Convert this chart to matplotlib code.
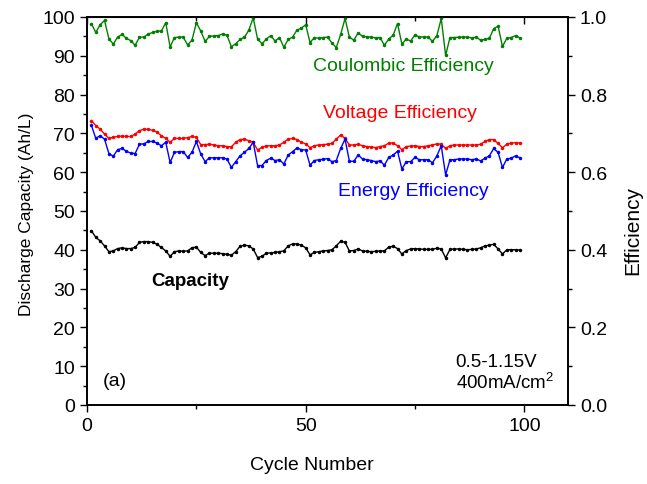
import numpy as np
import matplotlib
matplotlib.use('Agg')
import matplotlib.pyplot as plt
from matplotlib.ticker import MultipleLocator

plt.rcParams['font.family'] = ['Liberation Sans', 'DejaVu Sans']
plt.rcParams['mathtext.fontset'] = 'custom'
plt.rcParams['mathtext.rm'] = 'Liberation Sans'

# cycle numbers 1..99
cycles = np.arange(1, 100)

# discharge capacity (Ah/L)
capacity = [44.9, 43.2, 42.3, 41.0, 39.5, 39.7, 40.3, 40.5, 40.3, 40.3,
            40.6, 41.9, 42.1, 42.1, 41.9, 41.4, 40.6, 39.7, 38.3, 39.5,
            39.7, 39.6, 39.7, 40.5, 40.7, 39.3, 38.5, 39.1, 39.1, 39.1,
            39.0, 38.8, 38.6, 39.5, 40.9, 41.2, 41.0, 40.2, 38.0, 38.3,
            39.1, 39.2, 39.3, 39.5, 39.7, 41.0, 41.5, 41.5, 41.2, 40.5,
            38.7, 39.3, 39.5, 39.7, 39.8, 40.0, 41.0, 42.2, 41.9, 39.7,
            39.8, 40.2, 39.7, 39.6, 39.5, 39.6, 39.7, 39.7, 40.7, 40.9,
            40.3, 38.9, 39.8, 40.2, 40.3, 40.2, 40.1, 40.1, 40.1, 40.4,
            40.2, 37.9, 40.1, 40.2, 40.2, 40.1, 40.0, 40.1, 40.2, 40.5,
            41.0, 41.2, 41.4, 40.2, 38.9, 40.0, 40.0, 40.0, 39.9]

# coulombic efficiency (%)
coulombic = [98.3, 96.0, 98.0, 99.1, 94.4, 93.0, 94.8, 95.5, 94.5, 93.9,
             92.7, 94.8, 94.8, 95.6, 96.0, 96.3, 96.4, 98.5, 92.3, 94.7,
             94.8, 94.8, 92.8, 94.0, 98.5, 96.4, 93.7, 95.0, 95.1, 95.2,
             95.6, 95.3, 92.3, 93.1, 94.2, 94.8, 96.6, 99.8, 94.3, 93.1,
             94.3, 95.2, 93.8, 94.7, 92.2, 94.2, 94.8, 96.6, 97.1, 98.0,
             93.4, 94.7, 94.5, 94.7, 94.8, 93.3, 92.1, 95.5, 99.6, 94.8,
             94.0, 95.9, 95.0, 94.9, 94.8, 94.6, 94.7, 92.7, 94.3, 95.3,
             98.3, 93.0, 94.3, 93.8, 95.4, 94.8, 94.9, 94.8, 93.7, 95.2,
             99.6, 90.1, 94.7, 94.7, 94.8, 94.8, 94.8, 94.6, 94.8, 94.0,
             94.2, 94.5, 97.0, 97.6, 92.4, 94.5, 94.7, 95.2, 94.6]

# voltage efficiency (%)
voltage = [73.3, 72.0, 71.1, 69.8, 68.7, 69.0, 69.2, 69.3, 69.2, 69.2,
           69.8, 70.7, 71.1, 71.0, 70.8, 70.3, 69.4, 68.7, 67.7, 68.7,
           68.7, 68.7, 68.9, 69.2, 69.0, 67.1, 67.1, 67.2, 67.0, 66.8,
           66.8, 66.6, 66.5, 67.7, 68.4, 68.5, 68.1, 67.7, 65.7, 66.4,
           66.8, 66.8, 66.8, 67.0, 67.7, 68.5, 68.7, 68.4, 67.7, 67.3,
           66.3, 66.8, 67.0, 67.1, 67.2, 67.4, 68.5, 69.6, 68.7, 67.0,
           67.0, 67.2, 66.8, 66.6, 66.5, 66.3, 66.6, 66.8, 67.5, 67.5,
           66.8, 65.8, 66.6, 66.7, 66.8, 66.6, 66.6, 66.8, 67.0, 67.3,
           67.2, 66.1, 66.8, 67.0, 67.0, 67.0, 67.0, 67.0, 67.0, 67.2,
           67.9, 68.4, 68.4, 67.4, 66.3, 67.2, 67.5, 67.6, 67.5]

# energy efficiency (%)
energy = [72.1, 68.7, 69.4, 68.5, 64.8, 64.1, 65.8, 66.1, 65.4, 64.9,
          64.8, 67.2, 67.3, 67.9, 67.9, 67.5, 66.8, 67.7, 62.5, 65.1,
          65.3, 65.3, 63.8, 65.1, 67.9, 64.7, 62.7, 63.7, 63.7, 63.7,
          63.7, 63.4, 61.2, 62.7, 64.2, 65.1, 66.1, 67.7, 61.7, 61.7,
          63.0, 63.6, 63.0, 63.2, 62.1, 64.4, 65.3, 66.2, 65.8, 65.7,
          61.8, 63.0, 63.2, 63.3, 63.5, 62.7, 63.0, 66.1, 68.5, 62.8,
          62.8, 64.4, 63.4, 63.2, 63.0, 62.7, 62.9, 61.8, 63.8, 64.4,
          65.4, 60.8, 62.7, 62.7, 63.8, 63.2, 63.2, 63.2, 62.4, 64.2,
          66.8, 59.3, 63.2, 63.2, 63.4, 63.4, 63.4, 63.2, 63.4, 62.9,
          63.6, 64.2, 66.1, 65.1, 61.2, 63.4, 63.6, 64.2, 63.7]

fig = plt.figure(figsize=(6.47, 4.85), dpi=100)
ax = fig.add_axes([0.1345, 0.163, 0.7435, 0.8])
ax2 = ax.twinx()

ax.plot(cycles, capacity, color='black', lw=1, marker='o', ms=1.5)
ax2.plot(cycles, np.array(coulombic) / 100, color='#008000', lw=1, marker='o', ms=1.5)
ax2.plot(cycles, np.array(voltage) / 100, color='#ff0000', lw=1, marker='o', ms=1.5)
ax2.plot(cycles, np.array(energy) / 100, color='#0000ff', lw=1, marker='o', ms=1.5)

ax.set_xlim(0, 110)
ax.set_ylim(0, 100)
ax2.set_ylim(0, 1.0)

ax.set_xticks([0, 50, 100])
ax.xaxis.set_minor_locator(MultipleLocator(25))
ax.yaxis.set_major_locator(MultipleLocator(10))
ax.yaxis.set_minor_locator(MultipleLocator(5))
ax2.set_yticks([0.0, 0.2, 0.4, 0.6, 0.8, 1.0])
ax2.set_yticklabels(['0.0', '0.2', '0.4', '0.6', '0.8', '1.0'])
ax2.yaxis.set_minor_locator(MultipleLocator(0.1))

for a in (ax, ax2):
    a.tick_params(which='major', direction='out', length=5, width=1, labelsize=14)
    a.tick_params(which='minor', direction='out', length=3, width=1)
    for s in a.spines.values():
        s.set_linewidth(1.2)

top = ax.secondary_xaxis('top')
top.set_xticks([0, 50, 100])
top.xaxis.set_minor_locator(MultipleLocator(25))
top.tick_params(which='major', direction='in', length=5, width=1, labeltop=False)
top.tick_params(which='minor', direction='in', length=3, width=1)

ax.set_xlabel('Cycle Number', fontsize=14)
ax.xaxis.set_label_coords(0.468, -0.131)
ax.set_ylabel('Discharge Capacity (Ah/L)', fontsize=12.5)
ax.yaxis.set_label_coords(-0.110, 0.495)
ax2.set_ylabel('Efficiency', fontsize=15)
ax2.yaxis.set_label_coords(1.114, 0.451)

ax.text(72.4, 87.6, 'Coulombic Efficiency', color='#008000', fontsize=14, ha='center', va='center')
ax.text(71.5, 75.5, 'Voltage Efficiency', color='#ff0000', fontsize=14, ha='center', va='center')
ax.text(74.7, 55.2, 'Energy Efficiency', color='#0000ff', fontsize=14, ha='center', va='center')
ax.text(23.5, 32.0, 'Capacity', color='black', fontsize=13.5, fontweight='bold', ha='center', va='center')
ax.text(3.6, 6.2, '(a)', fontsize=14, ha='left', va='center')
ax.text(84.3, 11.2, '0.5-1.15V', fontsize=13.5, ha='left', va='center')
ax.text(84.3, 5.9, '400mA/cm$^2$', fontsize=13.5, ha='left', va='center')

fig.savefig('out.png', dpi=100)
